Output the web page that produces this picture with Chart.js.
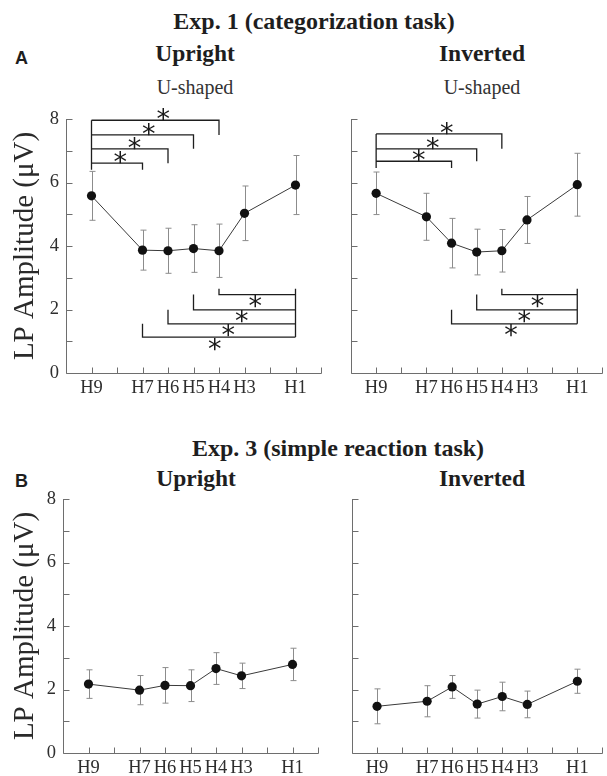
<!DOCTYPE html>
<html>
<head>
<meta charset="utf-8">
<script src="https://cdn.jsdelivr.net/npm/chart.js@4/dist/chart.umd.min.js"></script>
<style>
  html, body { margin: 0; padding: 0; background: #fff; }
  #wrap { position: relative; width: 607px; height: 776px; overflow: hidden; background: #fff; }
  canvas { position: absolute; }
  .t { position: absolute; white-space: nowrap; color: #1e1e1e; }
  .serifB { font-family: "Liberation Serif", "Times New Roman", serif; font-weight: bold; }
  .serif { font-family: "Liberation Serif", "Times New Roman", serif; }
  .sansB { font-family: "Liberation Sans", Arial, sans-serif; font-weight: bold; }
  .c { transform: translateX(-50%); }
</style>
</head>
<body>
<div id="wrap">
  <div class="t serifB c" style="left:314px; top:9px; font-size:24px; line-height:24px;">Exp. 1 (categorization task)</div>
  <div class="t sansB" style="left:15px; top:49px; font-size:18px; line-height:18px;">A</div>
  <div class="t serifB c" style="left:195px; top:42px; font-size:23.5px; line-height:23.5px;">Upright</div>
  <div class="t serifB c" style="left:482px; top:42px; font-size:23.5px; line-height:23.5px;">Inverted</div>
  <div class="t serif c" style="left:195px; top:77px; font-size:20px; line-height:20px; color:#333;">U-shaped</div>
  <div class="t serif c" style="left:482px; top:77px; font-size:20px; line-height:20px; color:#333;">U-shaped</div>

  <div class="t serifB c" style="left:338px; top:436px; font-size:24px; line-height:24px;">Exp. 3 (simple reaction task)</div>
  <div class="t sansB" style="left:15px; top:472px; font-size:18px; line-height:18px;">B</div>
  <div class="t serifB c" style="left:196px; top:467px; font-size:23.5px; line-height:23.5px;">Upright</div>
  <div class="t serifB c" style="left:482px; top:467px; font-size:23.5px; line-height:23.5px;">Inverted</div>

  <canvas id="c1" width="335" height="310" style="left:0px; top:90px;"></canvas>
  <canvas id="c2" width="272" height="310" style="left:335px; top:90px;"></canvas>
  <canvas id="c3" width="335" height="306" style="left:0px; top:470px;"></canvas>
  <canvas id="c4" width="272" height="306" style="left:335px; top:470px;"></canvas>
</div>
<script>
// ---------------- DATA ----------------
const categories = ['H9', 'H7', 'H6', 'H5', 'H4', 'H3', 'H1'];
const yTickValues = [0, 2, 4, 6, 8];
const yAxisTitle = 'LP Amplitude (μV)';

// Exp. 1 (categorization task)
const exp1UprightMeans   = [5.58, 3.87, 3.85, 3.92, 3.85, 5.03, 5.92];
const exp1UprightSEM     = [0.77, 0.63, 0.71, 0.75, 0.84, 0.86, 0.93];
const exp1InvertedMeans  = [5.66, 4.92, 4.09, 3.81, 3.85, 4.82, 5.93];
const exp1InvertedSEM    = [0.67, 0.74, 0.78, 0.72, 0.67, 0.74, 0.99];

// Exp. 3 (simple reaction task)
const exp3UprightMeans   = [2.17, 1.98, 2.13, 2.12, 2.66, 2.43, 2.79];
const exp3UprightSEM     = [0.45, 0.46, 0.56, 0.50, 0.50, 0.40, 0.51];
const exp3InvertedMeans  = [1.47, 1.63, 2.08, 1.54, 1.78, 1.53, 2.26];
const exp3InvertedSEM    = [0.55, 0.49, 0.36, 0.44, 0.45, 0.42, 0.38];

// Significance brackets (pairs compared, bracket heights in μV)
const exp1UprightUpperFrom   = 'H9';
const exp1UprightUpperTo     = ['H7', 'H6', 'H5', 'H4'];
const exp1UprightUpperLevels = [6.61, 7.06, 7.50, 7.96];
const exp1UprightLowerFrom   = ['H4', 'H5', 'H6', 'H7'];
const exp1UprightLowerTo     = 'H1';
const exp1UprightLowerLevels = [2.47, 1.99, 1.55, 1.13];

const exp1InvertedUpperFrom   = 'H9';
const exp1InvertedUpperTo     = ['H6', 'H5', 'H4'];
const exp1InvertedUpperLevels = [6.67, 7.06, 7.53];
const exp1InvertedLowerFrom   = ['H4', 'H5', 'H6'];
const exp1InvertedLowerTo     = 'H1';
const exp1InvertedLowerLevels = [2.47, 1.99, 1.55];

// ---------------- HELPERS ----------------
const AXIS_COLOR = '#6e6e6e';
const LABEL_COLOR = '#2e2e2e';
const SERIF = '"Liberation Serif", "Times New Roman", serif';

// x position of a level label: H9 -> 1 ... H1 -> 9 (axis spans H10..H0)
function levelPos(label) { return 10 - Number(label.slice(1)); }

function drawStar(ctx, cx, cy) {
  ctx.save();
  ctx.font = '27px "DejaVu Sans", sans-serif';
  ctx.textAlign = 'left';
  ctx.textBaseline = 'alphabetic';
  const m = ctx.measureText('*');
  const w = m.actualBoundingBoxRight - m.actualBoundingBoxLeft;
  const x = cx - w / 2 + m.actualBoundingBoxLeft;
  const y = cy + (m.actualBoundingBoxAscent - m.actualBoundingBoxDescent) / 2;
  ctx.fillStyle = '#1a1a1a';
  ctx.fillText('*', x, y);
  ctx.restore();
}

function makeDecor(sem, brackets) {
  return {
    id: 'decor',
    beforeDatasetsDraw(chart) {
      const {ctx, chartArea: a, scales: {x, y}} = chart;
      ctx.save();
      // axes
      ctx.strokeStyle = AXIS_COLOR;
      ctx.lineWidth = 1;
      const L = Math.round(a.left) + 0.5, B = Math.round(a.bottom) + 0.5;
      ctx.beginPath();
      ctx.moveTo(L, Math.round(a.top));
      ctx.lineTo(L, B);
      ctx.lineTo(Math.round(a.right) + 0.5, B);
      ctx.stroke();
      // inward ticks
      ctx.beginPath();
      for (let v = 0; v <= 8; v++) {
        const py = Math.round(y.getPixelForValue(v)) + 0.5;
        ctx.moveTo(L, py); ctx.lineTo(L + 6, py);
      }
      for (let v = 1; v <= 10; v++) {
        const px = Math.round(x.getPixelForValue(v)) + 0.5;
        ctx.moveTo(px, B); ctx.lineTo(px, B - 6);
      }
      ctx.stroke();
      // error bars
      ctx.strokeStyle = '#8c8c8c';
      ctx.beginPath();
      const ds = chart.data.datasets[0].data;
      ds.forEach((p, i) => {
        const px = Math.round(x.getPixelForValue(p.x)) + 0.5;
        const t = y.getPixelForValue(p.y + sem[i]);
        const b = y.getPixelForValue(p.y - sem[i]);
        ctx.moveTo(px, t); ctx.lineTo(px, b);
        ctx.moveTo(px - 3, t); ctx.lineTo(px + 3, t);
        ctx.moveTo(px - 3, b); ctx.lineTo(px + 3, b);
      });
      ctx.stroke();
      ctx.restore();
    },
    afterDraw(chart) {
      if (!brackets) return;
      const {ctx, scales: {x, y}} = chart;
      ctx.save();
      ctx.strokeStyle = '#1e1e1e';
      ctx.lineWidth = 1.3;
      // upper brackets: from one level to several others, opening downward
      const up = brackets.upper;
      if (up) {
        const x0 = x.getPixelForValue(levelPos(up.from));
        const lv = up.levels;
        ctx.beginPath();
        ctx.moveTo(x0, y.getPixelForValue(lv[lv.length - 1]));
        ctx.lineTo(x0, y.getPixelForValue(lv[0] - 0.21));
        up.to.forEach((lab, i) => {
          const x1 = x.getPixelForValue(levelPos(lab));
          const py = y.getPixelForValue(lv[i]);
          const endY = y.getPixelForValue(i === 0 ? lv[0] - 0.21 : lv[i - 1]);
          ctx.moveTo(x0, py); ctx.lineTo(x1, py); ctx.lineTo(x1, endY);
        });
        ctx.stroke();
        up.to.forEach((lab, i) => {
          const x1 = x.getPixelForValue(levelPos(lab));
          drawStar(ctx, x0 + (x1 - x0) * 0.56, y.getPixelForValue(lv[i]) - 5.5);
        });
      }
      const lo = brackets.lower;
      if (lo) {
        const x1 = x.getPixelForValue(levelPos(lo.to));
        const lv = lo.levels;
        ctx.beginPath();
        ctx.moveTo(x1, y.getPixelForValue(lv[0] + 0.18));
        ctx.lineTo(x1, y.getPixelForValue(lv[lv.length - 1]));
        lo.from.forEach((lab, i) => {
          const x0 = x.getPixelForValue(levelPos(lab));
          const py = y.getPixelForValue(lv[i]);
          const endY = y.getPixelForValue(i === 0 ? lv[0] + 0.18 : lv[i - 1]);
          ctx.moveTo(x1, py); ctx.lineTo(x0, py); ctx.lineTo(x0, endY);
        });
        ctx.stroke();
        lo.from.forEach((lab, i) => {
          const x0 = x.getPixelForValue(levelPos(lab));
          drawStar(ctx, x0 + (x1 - x0) * 0.47, y.getPixelForValue(lv[i]) + 7);
        });
      }
      ctx.restore();
    }
  };
}

function makePanel(id, geom, means, sem, showY, brackets) {
  const canvas = document.getElementById(id);
  const W = canvas.width, H = canvas.height;
  const tickFont = {family: SERIF, size: 18.5};
  return new Chart(canvas, {
    type: 'line',
    data: {
      datasets: [{
        data: categories.map((c, i) => ({x: levelPos(c), y: means[i]})),
        borderColor: '#3a3a3a',
        borderWidth: 1,
        pointRadius: 4.6,
        pointBackgroundColor: '#111',
        pointBorderWidth: 0,
        tension: 0,
        fill: false
      }]
    },
    options: {
      responsive: false,
      animation: false,
      devicePixelRatio: 1,
      layout: { padding: { left: 0, top: geom.top, right: W - geom.right, bottom: 0 } },
      plugins: { legend: {display: false}, tooltip: {enabled: false}, title: {display: false} },
      scales: {
        x: {
          type: 'linear', min: 0, max: 10,
          grid: {display: false, drawTicks: false},
          border: {display: false},
          ticks: {
            stepSize: 1, autoSkip: false, maxRotation: 0, padding: 4,
            font: tickFont, color: LABEL_COLOR,
            callback: (v) => { const c = categories.find(k => levelPos(k) === v); return c || ''; }
          },
          afterFit: (s) => { s.height = H - geom.bottom; }
        },
        y: {
          type: 'linear', min: 0, max: 8,
          grid: {display: false, drawTicks: false},
          border: {display: false},
          ticks: {
            display: showY, stepSize: 1, padding: 7,
            font: tickFont, color: LABEL_COLOR,
            callback: (v) => yTickValues.includes(v) ? String(v) : ''
          },
          title: {
            display: showY, text: yAxisTitle, color: '#2a2a2a',
            font: {family: SERIF, size: 29}, padding: {top: 7.6, bottom: 0}
          },
          afterFit: (s) => { s.width = geom.left; }
        }
      }
    },
    plugins: [makeDecor(sem, brackets)]
  });
}

makePanel('c1', {left: 66, right: 321, top: 29, bottom: 283}, exp1UprightMeans, exp1UprightSEM, true, {
  upper: {from: exp1UprightUpperFrom, to: exp1UprightUpperTo, levels: exp1UprightUpperLevels},
  lower: {from: exp1UprightLowerFrom, to: exp1UprightLowerTo, levels: exp1UprightLowerLevels}
});
makePanel('c2', {left: 16, right: 271, top: 29, bottom: 283}, exp1InvertedMeans, exp1InvertedSEM, false, {
  upper: {from: exp1InvertedUpperFrom, to: exp1InvertedUpperTo, levels: exp1InvertedUpperLevels},
  lower: {from: exp1InvertedLowerFrom, to: exp1InvertedLowerTo, levels: exp1InvertedLowerLevels}
});
makePanel('c3', {left: 63, right: 318, top: 29, bottom: 283}, exp3UprightMeans, exp3UprightSEM, true, null);
makePanel('c4', {left: 17, right: 271, top: 29, bottom: 283}, exp3InvertedMeans, exp3InvertedSEM, false, null);
</script>
</body>
</html>
